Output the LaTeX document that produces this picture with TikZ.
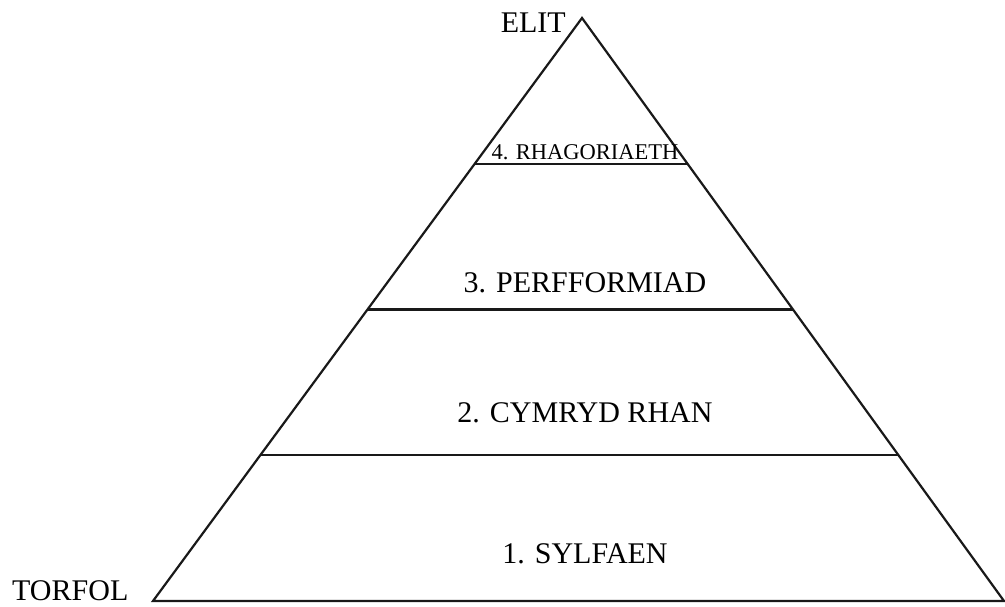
\documentclass[tikz,border=0pt]{standalone}
\usepackage{fontspec}
\setmainfont{Liberation Serif}
\begin{document}
\begin{tikzpicture}[x=1pt,y=-1pt,
  edge/.style={draw=black!90,line width=2.2pt,line join=miter},
  band/.style={draw=black!90,line width=2.2pt},
  lbl/.style={font=\fontsize{30}{31}\selectfont,inner sep=0pt},
  smalllbl/.style={font=\fontsize{22.5}{23}\selectfont,inner sep=0pt}]
\useasboundingbox (0,0) rectangle (1005,607);
\coordinate (apex) at (582,18);
\coordinate (bl) at (153,601);
\coordinate (br) at (1004,601);
\draw[edge] (bl) -- (apex) -- (br) -- cycle;
% band lines
\path (apex) -- (bl) coordinate[pos=0.25] (l4) coordinate[pos=0.5] (l3) coordinate[pos=0.75] (l2);
\path (apex) -- (br) coordinate[pos=0.25] (r4) coordinate[pos=0.5] (r3) coordinate[pos=0.75] (r2);
\draw[band] (l4) -- (r4);
\draw[band] (l3) -- (r3);
\draw[band] (l2) -- (r2);
\node[lbl,anchor=base east] (elit) at (566,33) {ELIT};
\node[lbl,anchor=base west] (torfol) at (12,600) {TORFOL};
\node[smalllbl,anchor=base] (t4) at (585,160) {4. RHAGORIAETH};
\node[lbl,anchor=base] (t3) at (585,292) {3. PERFFORMIAD};
\node[lbl,anchor=base] (t2) at (585,422) {2. CYMRYD RHAN};
\node[lbl,anchor=base] (t1) at (585,563) {1. SYLFAEN};
\end{tikzpicture}
\end{document}
